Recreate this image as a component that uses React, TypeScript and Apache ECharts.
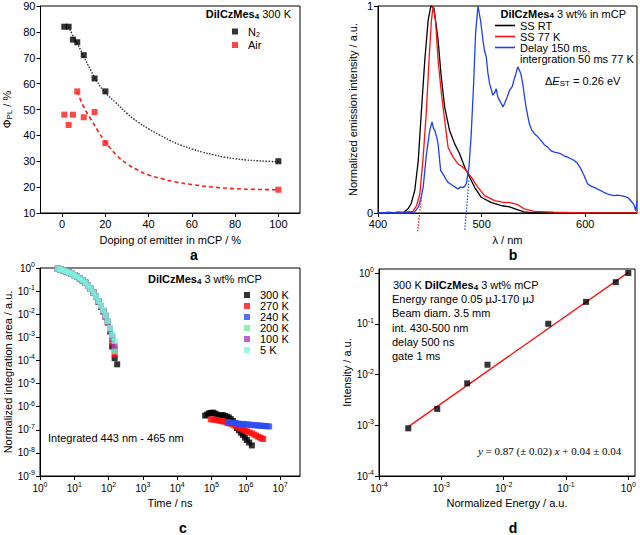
import { useEffect, useRef } from 'react';
import * as echarts from 'echarts';

const FONT = 'Liberation Sans, Arial, Helvetica, sans-serif';
const SERIF = 'Liberation Serif, Times New Roman, serif';

// ---------- Panel a: PLQY vs doping ----------
const dopingN2 = [1, 3, 5, 7, 10, 15, 20, 100];
const plqyN2 = [82, 82, 77, 76, 71, 62, 57, 30];
const dopingAir = [1, 3, 5, 7, 10, 15, 20, 100];
const plqyAir = [48, 44, 48, 57, 47, 49, 37, 19];
const fitN2X = [3, 5, 7, 10, 13, 16, 20, 25, 30, 35, 40, 45, 50, 55, 60, 65, 70, 75, 80, 85, 90, 95, 100];
const fitN2Y = [82, 78.5, 75.5, 70.5, 65.5, 61, 56.5, 52.5, 48.5, 45.2, 42.5, 40.2, 38, 36.2, 34.8, 33.5, 32.5, 31.6, 31, 30.5, 30.2, 30, 29.8];
const fitAirX = [7, 10, 13.5, 16.7, 20, 25, 30, 35, 40, 46, 52, 60, 70, 80, 90, 100];
const fitAirY = [57, 51, 46, 41.5, 37.5, 32.5, 29, 26.6, 24.7, 23.3, 22.1, 21, 20, 19.4, 19.1, 19];
const dopingTicks = [0, 20, 40, 60, 80, 100];

// ---------- Panel b: spectra ----------
const rtWl = [400, 424, 429, 432, 435.5, 438.8, 442, 445.2, 448.4, 451, 454, 458, 461, 464.4, 469, 474, 478.8, 483.7, 488.5, 493.3, 499.7, 509, 520, 527, 535, 541, 550, 650];
const rtInt = [0, 0, 0.02, 0.045, 0.11, 0.25, 0.5, 0.74, 0.93, 1.0, 0.99, 0.835, 0.66, 0.51, 0.4, 0.334, 0.286, 0.221, 0.173, 0.124, 0.076, 0.051, 0.035, 0.03, 0.015, 0.005, 0, 0];
const ltWl = [400, 431, 434, 437.2, 440.4, 443.6, 446.8, 449.4, 451.6, 453.2, 455.5, 458, 461.2, 464.4, 467.6, 472.5, 477.2, 481, 485.3, 490, 496.5, 502.9, 512.5, 520, 527, 535, 541, 551, 570, 600, 650];
const ltInt = [0, 0, 0.01, 0.035, 0.092, 0.27, 0.5, 0.754, 0.932, 1.0, 0.93, 0.738, 0.577, 0.447, 0.318, 0.27, 0.237, 0.225, 0.205, 0.173, 0.124, 0.084, 0.06, 0.052, 0.05, 0.04, 0.02, 0.008, 0.004, 0, 0];
const dlWl = [400, 405, 410, 415, 420, 425, 430, 435, 438.8, 441, 443.6, 446.8, 450, 452.2, 453.5, 454.8, 456.5, 458, 460.5, 462.5, 464.4, 466, 467.6, 470, 472.4, 474.5, 477.2, 479.5, 482, 484, 485.3, 487.8, 490, 492.3, 494.2, 496.5, 499, 501.3, 503, 504.5, 506, 507.7, 510.9, 512.5, 514.1, 515.7, 517.3, 519, 520.5, 522.1, 524.7, 527, 529.5, 531.7, 533.5, 534.9, 536.5, 538, 539.7, 541.5, 542.9, 544.5, 546.1, 548.5, 551, 554, 557.4, 560.5, 563.8, 567, 570.2, 573.5, 576.6, 580, 583, 586, 589.4, 592.5, 595.9, 599, 602.2, 605.5, 608.7, 612, 615, 618, 621.4, 624.5, 627.9, 631, 634.3, 637.5, 640.7, 643, 645.5, 647, 648.8, 650];
const dlInt = [0.003, 0, 0.004, 0.002, 0.005, 0.003, 0.006, 0.004, 0.027, 0.06, 0.124, 0.286, 0.4, 0.44, 0.41, 0.4, 0.37, 0.334, 0.205, 0.19, 0.173, 0.16, 0.148, 0.14, 0.132, 0.125, 0.116, 0.125, 0.124, 0.13, 0.144, 0.221, 0.383, 0.625, 0.868, 1.0, 0.93, 0.835, 0.78, 0.754, 0.68, 0.625, 0.569, 0.58, 0.6, 0.56, 0.544, 0.53, 0.512, 0.528, 0.56, 0.593, 0.61, 0.65, 0.68, 0.706, 0.69, 0.67, 0.625, 0.56, 0.512, 0.47, 0.431, 0.4, 0.383, 0.37, 0.35, 0.33, 0.318, 0.3, 0.294, 0.29, 0.286, 0.275, 0.27, 0.262, 0.254, 0.24, 0.213, 0.18, 0.141, 0.13, 0.124, 0.115, 0.108, 0.1, 0.092, 0.088, 0.084, 0.086, 0.084, 0.08, 0.076, 0.065, 0.051, 0.04, 0.011, 0.06];
const onsetS1Wl = [442, 438.2];
const onsetS1Int = [0.076, -0.087];
const onsetT1Wl = [487.8, 483.7];
const onsetT1Int = [0.157, -0.087];
const wavelengthTicks = [400, 500, 600];

// ---------- Panel c: decays ----------
const earlyTime = [3.3, 4, 4.8, 5.8, 7, 8.4, 10, 12, 14.5, 17.5, 21, 25, 30, 36, 43, 51, 60, 70, 82, 95, 110, 127, 150, 178];
const early300K = [0.92, 0.85, 0.78, 0.71, 0.63, 0.56, 0.49, 0.42, 0.35, 0.29, 0.23, 0.17, 0.125, 0.086, 0.056, 0.034, 0.021, 0.0135, 8.5e-3, 4.8e-3, 1.8e-3, 4e-4, 1.25e-4, 6.8e-5];
const early270K = [0.93, 0.85, 0.78, 0.71, 0.63, 0.56, 0.49, 0.42, 0.35, 0.29, 0.23, 0.17, 0.126, 0.087, 0.057, 0.035, 0.022, 0.013, 7.5e-3, 4.2e-3, 2e-3, 6e-4, 1.8e-4];
const early240K = [0.93, 0.85, 0.78, 0.71, 0.63, 0.56, 0.49, 0.42, 0.35, 0.29, 0.23, 0.17, 0.126, 0.087, 0.057, 0.036, 0.022, 0.0135, 7.8e-3, 4.4e-3, 2.1e-3, 9e-4, 3e-4];
const early200K = [0.93, 0.85, 0.78, 0.71, 0.63, 0.56, 0.49, 0.42, 0.35, 0.29, 0.23, 0.17, 0.126, 0.087, 0.057, 0.036, 0.023, 0.014, 8e-3, 4.5e-3, 2.2e-3, 1e-3, 2.6e-4];
const early100K = [0.93, 0.85, 0.78, 0.71, 0.63, 0.56, 0.49, 0.42, 0.35, 0.29, 0.23, 0.17, 0.125, 0.086, 0.057, 0.036, 0.023, 0.014, 8.2e-3, 4.6e-3, 2.3e-3, 1.1e-3, 4.3e-4];
const early5K = [0.93, 0.85, 0.78, 0.71, 0.63, 0.56, 0.49, 0.42, 0.35, 0.29, 0.23, 0.17, 0.126, 0.087, 0.058, 0.037, 0.024, 0.015, 8.9e-3, 5e-3, 2.5e-3, 1.3e-3, 7e-4];
const late300KTime = [6.5e4, 7.5e4, 8.5e4, 9.8e4, 1.12e5, 1.28e5, 1.45e5, 1.65e5, 1.9e5, 2.15e5, 2.45e5, 2.8e5, 3.2e5, 3.65e5, 4.2e5, 4.8e5, 5.5e5, 6.3e5, 7.2e5, 8.2e5, 9.4e5, 1.07e6, 1.25e6, 1.5e6];
const late300K = [4.1e-7, 4.6e-7, 5.2e-7, 5.4e-7, 5.5e-7, 5e-7, 4.5e-7, 3.9e-7, 4.2e-7, 4.3e-7, 4e-7, 3.7e-7, 3.4e-7, 2.9e-7, 2.4e-7, 1.9e-7, 1.2e-7, 9.5e-8, 7.5e-8, 6e-8, 4.6e-8, 3.6e-8, 2.8e-8, 2.1e-8];
const late270KTime = [9.5e4, 1.1e5, 1.3e5, 1.5e5, 1.7e5, 1.95e5, 2.2e5, 2.55e5, 2.9e5, 3.3e5, 3.8e5, 4.4e5, 5e5, 5.7e5, 6.5e5, 7.5e5, 8.5e5, 9.7e5, 1.1e6, 1.3e6, 1.5e6, 1.75e6, 2e6, 2.3e6, 2.6e6, 2.9e6, 3.2e6];
const late270K = [2.8e-7, 2.8e-7, 2.7e-7, 2.6e-7, 2.5e-7, 2.4e-7, 2.3e-7, 2.2e-7, 2e-7, 1.9e-7, 1.8e-7, 1.65e-7, 1.5e-7, 1.35e-7, 1.2e-7, 1.1e-7, 1e-7, 9.2e-8, 8.5e-8, 7.6e-8, 7e-8, 6.2e-8, 5.6e-8, 5e-8, 4.6e-8, 4.3e-8, 4e-8];
const late240KTime = [3e5, 3.4e5, 4e5, 4.6e5, 5.2e5, 6e5, 7e5, 8e5, 9e5, 1.05e6, 1.2e6, 1.4e6, 1.6e6, 1.85e6, 2.1e6, 2.45e6, 2.8e6, 3.2e6, 3.7e6, 4.2e6, 4.8e6];
const late240K = [2.1e-7, 2.05e-7, 2e-7, 1.95e-7, 1.9e-7, 1.85e-7, 1.8e-7, 1.77e-7, 1.75e-7, 1.7e-7, 1.68e-7, 1.64e-7, 1.6e-7, 1.57e-7, 1.55e-7, 1.52e-7, 1.5e-7, 1.47e-7, 1.45e-7, 1.42e-7, 1.4e-7];
const timeDecades = [1, 10, 1e2, 1e3, 1e4, 1e5, 1e6, 1e7];
const areaDecades = [1e-9, 1e-8, 1e-7, 1e-6, 1e-5, 1e-4, 1e-3, 1e-2, 1e-1, 1];

// ---------- Panel d: power dependence ----------
const energy = [2.95e-4, 8.6e-4, 2.6e-3, 5.5e-3, 5.2e-2, 0.21, 0.63, 1.0];
const intensity = [8.7e-4, 2.1e-3, 6.7e-3, 1.56e-2, 0.1, 0.27, 0.66, 1.0];
const fitEnergy = [3e-4, 1];
const fitIntensity = [9.5e-4, 1.03];
const energyDecades = [1e-4, 1e-3, 1e-2, 1e-1, 1];
const intensityDecades = [1e-4, 1e-3, 1e-2, 1e-1, 1];

const zip = (xs: number[], ys: number[]) => ys.map((y, i) => [xs[i], y]);

const COLORS = {
  k300: '#000000', k270: '#ff1010', k240: '#2a4cf0', k200: '#70f09a', k100: '#b03cb8', k5: '#7cf8dc',
};

const logLabel = (v: number) => `{b|10}{s|${Math.round(Math.log10(v))}}`;
const logRich = {
  b: { fontSize: 10, lineHeight: 14, fontFamily: FONT, color: '#000' },
  s: { fontSize: 7, lineHeight: 7, verticalAlign: 'top', fontFamily: FONT, color: '#000' },
};

const axisCommon = {
  axisLine: { show: true, onZero: false, lineStyle: { color: '#000', width: 1 } },
  splitLine: { show: false },
  nameLocation: 'middle',
};
const nameStyle = { color: '#000', fontSize: 11, fontFamily: FONT };
const tick = (customValues?: number[]) => ({ show: true, length: 4, lineStyle: { color: '#000' }, ...(customValues ? { customValues } : {}) });
const label = (extra: any = {}) => ({ color: '#000', fontSize: 11, fontFamily: FONT, margin: 5, ...extra });

const richText = {
  b: { fontFamily: FONT, fontWeight: 'bold', fontSize: 11, lineHeight: 12, fill: '#000' },
  bs: { fontFamily: FONT, fontWeight: 'bold', fontSize: 8, lineHeight: 6, verticalAlign: 'bottom', fill: '#000' },
  n: { fontFamily: FONT, fontSize: 11, lineHeight: 12, fill: '#000' },
  n11: { fontFamily: FONT, fontSize: 11, lineHeight: 11, fill: '#000' },
  i: { fontFamily: FONT, fontStyle: 'italic', fontSize: 11, lineHeight: 12, fill: '#000' },
  s: { fontFamily: FONT, fontSize: 8, lineHeight: 6, verticalAlign: 'bottom', fill: '#000' },
};

const txt = (text: string, x: number, y: number, align = 'left', extra: any = {}) => ({
  type: 'text', x, y, silent: true,
  style: { text, rich: richText, align, verticalAlign: 'middle', fill: '#000', fontFamily: FONT, fontSize: 11, ...extra },
});

export default function App() {
  const ref = useRef<HTMLDivElement>(null);
  useEffect(() => {
    if (!ref.current) return;
    const chart = echarts.init(ref.current, undefined, { renderer: 'svg' });
    const sq = (name: string, data: number[][], color: string, xi: number, size = 6) => ({
      type: 'scatter', name, data, xAxisIndex: xi, yAxisIndex: xi, symbol: 'rect', symbolSize: size,
      itemStyle: { color }, z: 3,
    });
    const option: any = {
      animation: false,
      backgroundColor: '#fff',
      grid: [
        { left: 40, top: 6, width: 260, height: 207, show: true, borderColor: '#000', borderWidth: 1 },
        { left: 378, top: 6, width: 259, height: 207, show: true, borderColor: '#000', borderWidth: 1 },
        { left: 40, top: 268, width: 260, height: 208, show: true, borderColor: '#000', borderWidth: 1 },
        { left: 379, top: 269, width: 256, height: 207, show: true, borderColor: '#000', borderWidth: 1 },
      ],
      xAxis: [
        { ...axisCommon, gridIndex: 0, type: 'value', min: -10, max: 110, axisTick: tick(dopingTicks), axisLabel: label({ customValues: dopingTicks }), name: 'Doping of emitter in mCP / %', nameGap: 21, nameTextStyle: nameStyle },
        { ...axisCommon, gridIndex: 1, type: 'value', min: 400, max: 650, axisTick: tick(wavelengthTicks), axisLabel: label({ customValues: wavelengthTicks }), name: 'λ / nm', nameGap: 21, nameTextStyle: nameStyle },
        { ...axisCommon, gridIndex: 2, type: 'log', logBase: 10, min: 1, max: 3.8e7, axisTick: tick(timeDecades), axisLabel: label({ customValues: timeDecades, formatter: logLabel, rich: logRich }), name: 'Time / ns', nameGap: 21, nameTextStyle: nameStyle },
        { ...axisCommon, gridIndex: 3, type: 'log', logBase: 10, min: 1e-4, max: 1.28, axisTick: tick(energyDecades), axisLabel: label({ customValues: energyDecades, formatter: logLabel, rich: logRich }), name: 'Normalized Energy / a.u.', nameGap: 21, nameTextStyle: nameStyle },
      ],
      yAxis: [
        { ...axisCommon, gridIndex: 0, type: 'value', min: 10, max: 90, interval: 10, axisTick: tick(), axisLabel: label(), name: '{n|Φ}{s|PL}{n| / %}', nameGap: 27, nameTextStyle: { ...nameStyle, rich: { n: { fontSize: 11, fontFamily: FONT, lineHeight: 14 }, s: { fontSize: 8, fontFamily: FONT, lineHeight: 8, verticalAlign: 'bottom' } } } },
        { ...axisCommon, gridIndex: 1, type: 'value', min: 0, max: 1, interval: 1, axisTick: tick(), axisLabel: label(), name: 'Normalized emission intensity / a.u.', nameGap: 20, nameTextStyle: nameStyle },
        { ...axisCommon, gridIndex: 2, type: 'log', logBase: 10, min: 1e-9, max: 1, axisTick: tick(areaDecades), axisLabel: label({ customValues: areaDecades, formatter: logLabel, rich: logRich }), name: 'Normalized integration area / a.u.', nameGap: 23, nameTextStyle: nameStyle },
        { ...axisCommon, gridIndex: 3, type: 'log', logBase: 10, min: 1e-4, max: 1.2, axisTick: tick(intensityDecades), axisLabel: label({ customValues: intensityDecades, formatter: logLabel, rich: logRich }), name: 'Intensity / a.u.', nameGap: 27, nameTextStyle: nameStyle },
      ],
      legend: [
        {
          data: ['N2', 'Air'], orient: 'vertical', left: 232, top: 26, padding: 0, icon: 'rect', itemWidth: 6, itemHeight: 6, itemGap: 2, selectedMode: false,
          formatter: (n: string) => (n === 'N2' ? '{t|N}{s|2}' : '{t|Air}'),
          textStyle: { rich: { t: { fontSize: 11, fontFamily: FONT, lineHeight: 12, padding: [0, 0, 0, 5], color: '#000' }, s: { fontSize: 7, fontFamily: FONT, lineHeight: 7, verticalAlign: 'bottom', color: '#000' } } },
        },
        {
          data: ['SS RT', 'SS 77 K', 'Delay'], orient: 'vertical', left: 495, top: 20, padding: 0, icon: 'rect', itemWidth: 20, itemHeight: 1.6, itemGap: 0, selectedMode: false,
          formatter: (n: string) => (n === 'Delay' ? '{t|Delay 150 ms,}' : `{t|${n}}`),
          textStyle: { rich: { t: { fontSize: 11, fontFamily: FONT, lineHeight: 11, color: '#000' } } },
        },
        {
          data: ['300 K', '270 K', '240 K', '200 K', '100 K', '5 K'], orient: 'vertical', left: 244, top: 289.5, padding: 0, icon: 'rect', itemWidth: 6, itemHeight: 6, itemGap: 0, selectedMode: false,
          formatter: (n: string) => `{t|${n}}`,
          textStyle: { rich: { t: { fontSize: 11, fontFamily: FONT, lineHeight: 11, padding: [0, 0, 0, 5], color: '#000' } } },
        },
      ],
      graphic: [
        txt('{b|DiICzMes}{bs|4}{n| 300 K}', 291, 14, 'right'),
        txt('{b|DiICzMes}{bs|4}{n| 3 wt% in mCP}', 626, 13.5, 'right'),
        txt('{n11|intergration 50 ms 77 K}', 520, 58.5),
        txt('{n|Δ}{i|E}{s|ST}{n| = 0.26 eV}', 545, 81),
        txt('{b|DiICzMes}{bs|4}{n| 3 wt% mCP}', 148, 279),
        txt('{n|Integrated 443 nm - 465 nm}', 48, 438),
        txt('{n|300 K }{b|DiICzMes}{bs|4}{n| 3 wt% mCP}', 393, 285),
        txt('{n|Energy range 0.05 µJ-170 µJ}', 392, 299),
        txt('{n|Beam diam. 3.5 mm}', 392, 313),
        txt('{n|int. 430-500 nm}', 392, 327.5),
        txt('{n|delay 500 ns}', 392, 341.5),
        txt('{n|gate 1 ms}', 392, 355.5),
        txt('{si|y}{sn| = 0.87 (± 0.02) }{si|x}{sn| + 0.04 ± 0.04}', 478, 451, 'left', {
          rich: {
            si: { fontFamily: SERIF, fontStyle: 'italic', fontSize: 11, lineHeight: 14, fill: '#000' },
            sn: { fontFamily: SERIF, fontSize: 11, lineHeight: 14, fill: '#000' },
          },
        }),
        { type: 'text', x: 194, y: 255, style: { text: 'a', fontFamily: FONT, fontWeight: 'bold', fontSize: 14, fill: '#000', align: 'center', verticalAlign: 'middle' } },
        { type: 'text', x: 513, y: 255, style: { text: 'b', fontFamily: FONT, fontWeight: 'bold', fontSize: 14, fill: '#000', align: 'center', verticalAlign: 'middle' } },
        { type: 'text', x: 183, y: 528, style: { text: 'c', fontFamily: FONT, fontWeight: 'bold', fontSize: 14, fill: '#000', align: 'center', verticalAlign: 'middle' } },
        { type: 'text', x: 513, y: 528, style: { text: 'd', fontFamily: FONT, fontWeight: 'bold', fontSize: 14, fill: '#000', align: 'center', verticalAlign: 'middle' } },
      ],
      series: [
        // panel a
        { type: 'line', name: 'fitN2', data: zip(fitN2X, fitN2Y), xAxisIndex: 0, yAxisIndex: 0, symbol: 'none', smooth: true, lineStyle: { color: '#333', width: 1.4, type: [1.5, 1.5] } },
        { type: 'line', name: 'fitAir', data: zip(fitAirX, fitAirY), xAxisIndex: 0, yAxisIndex: 0, symbol: 'none', smooth: true, lineStyle: { color: '#ff1a1a', width: 1.6, type: [4, 3] } },
        sq('N2', zip(dopingN2, plqyN2), '#000', 0),
        sq('Air', zip(dopingAir, plqyAir), '#ff1a1a', 0),
        // panel b
        { type: 'line', name: 'SS RT', data: zip(rtWl, rtInt), xAxisIndex: 1, yAxisIndex: 1, symbol: 'none', lineStyle: { color: '#000', width: 1.3 }, itemStyle: { color: '#000' } },
        { type: 'line', name: 'SS 77 K', data: zip(ltWl, ltInt), xAxisIndex: 1, yAxisIndex: 1, symbol: 'none', lineStyle: { color: '#ff1010', width: 1.3 }, itemStyle: { color: '#ff1010' } },
        { type: 'line', name: 'Delay', data: zip(dlWl, dlInt), xAxisIndex: 1, yAxisIndex: 1, symbol: 'none', lineStyle: { color: '#2040ee', width: 1.3 }, itemStyle: { color: '#2040ee' } },
        { type: 'line', name: 'onsetS1', data: zip(onsetS1Wl, onsetS1Int), xAxisIndex: 1, yAxisIndex: 1, symbol: 'none', clip: false, lineStyle: { color: '#ff1010', width: 1.2, type: [1.5, 1.5] } },
        { type: 'line', name: 'onsetT1', data: zip(onsetT1Wl, onsetT1Int), xAxisIndex: 1, yAxisIndex: 1, symbol: 'none', clip: false, lineStyle: { color: '#2040ee', width: 1.2, type: [1.5, 1.5] } },
        // panel c
        sq('300 K', zip(earlyTime, early300K), COLORS.k300, 2),
        sq('300 K', zip(late300KTime, late300K), COLORS.k300, 2),
        sq('270 K', zip(earlyTime, early270K), COLORS.k270, 2),
        sq('270 K', zip(late270KTime, late270K), COLORS.k270, 2),
        sq('240 K', zip(earlyTime, early240K), COLORS.k240, 2),
        sq('240 K', zip(late240KTime, late240K), COLORS.k240, 2),
        sq('200 K', zip(earlyTime, early200K), COLORS.k200, 2),
        sq('100 K', zip(earlyTime, early100K), COLORS.k100, 2),
        sq('5 K', zip(earlyTime, early5K), COLORS.k5, 2),
        // panel d
        { type: 'line', name: 'fitD', data: zip(fitEnergy, fitIntensity), xAxisIndex: 3, yAxisIndex: 3, symbol: 'none', lineStyle: { color: '#ff1010', width: 1.3 } },
        sq('dPoints', zip(energy, intensity), '#000', 3),
      ],
    };
    chart.setOption(option);
    return () => chart.dispose();
  }, []);
  return <div ref={ref} style={{ position: 'fixed', left: 0, top: 0, width: 640, height: 535, background: '#fff' }} />;
}
